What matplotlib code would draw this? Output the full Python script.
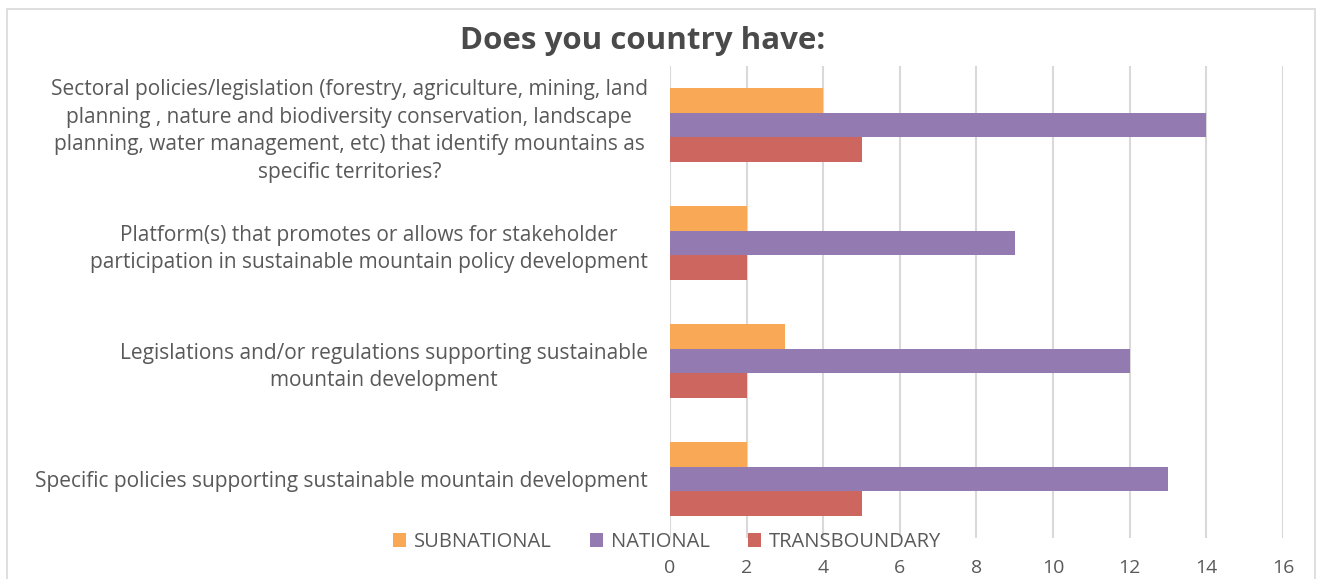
import matplotlib
matplotlib.use("Agg")
import matplotlib.pyplot as plt
from matplotlib.patches import Rectangle, Patch
import numpy as np

categories = [
    "Sectoral policies/legislation (forestry, agriculture, mining, land\nplanning , nature and biodiversity conservation, landscape\nplanning, water management, etc) that identify mountains as\nspecific territories?",
    "Platform(s) that promotes or allows for stakeholder\nparticipation in sustainable mountain policy development",
    "Legislations and/or regulations supporting sustainable\nmountain development",
    "Specific policies supporting sustainable mountain development",
]
subnational = [4, 2, 3, 2]
national = [14, 9, 12, 13]
transboundary = [5, 2, 2, 5]
series_names = ["SUBNATIONAL", "NATIONAL", "TRANSBOUNDARY"]
colors = ["#F9A856", "#937AB1", "#CD665F"]
xticks = [0, 2, 4, 6, 8, 10, 12, 14, 16]

plt.rcParams['font.family'] = ['Open Sans', 'DejaVu Sans']

W, H = 1319, 579
fig = plt.figure(figsize=(W / 100, H / 100), dpi=100)
fig.patch.set_facecolor("white")

# outer chart border
fig.patches.append(Rectangle((7 / W, -0.05), (1315 - 7) / W, 1 - 9 / H + 0.05,
                             transform=fig.transFigure, fill=False,
                             edgecolor="#D9D9D9", linewidth=1.2))

ax = fig.add_axes([670 / W, 1 - 538 / H, (1283 - 670) / W, (538 - 66) / H])
y = np.arange(len(categories))
bw = 0.208
for vals, off, c, name in zip([subnational, national, transboundary],
                              [-bw, 0, bw], colors, series_names):
    ax.barh(y + off, vals, height=bw, color=c, label=name, zorder=3)

ax.set_ylim(3.5, -0.5)
ax.set_xlim(0, 16)
ax.set_xticks(xticks)
ax.set_xticklabels([str(t) for t in xticks])
ax.set_yticks(y)
ax.set_yticklabels(categories, ha="right", multialignment="center",
                   linespacing=1.42)
ax.tick_params(axis="y", length=0, pad=16, labelsize=15, labelcolor="#595959")
ax.tick_params(axis="x", length=0, pad=15, labelsize=14, labelcolor="#595959")
for s in ax.spines.values():
    s.set_visible(False)
ax.grid(axis="x", color="#D9D9D9", linewidth=1.5, zorder=0)
ax.set_axisbelow(True)

fig.text(643 / W, 1 - 41 / H, "Does you country have:", ha="center", va="center",
         fontsize=22.5, fontweight="bold", color="#4A4A4A")

handles = [Patch(facecolor=c, edgecolor="none") for c in colors]
leg = fig.legend(handles, series_names, loc="center", bbox_to_anchor=(667 / W, 1 - 542 / H),
                 ncol=3, frameon=False, fontsize=14.5, handlelength=0.65, handleheight=0.65,
                 handletextpad=0.4, columnspacing=1.9, borderaxespad=0, borderpad=0)
for t in leg.get_texts():
    t.set_color("#595959")

fig.savefig("out.png", dpi=100, facecolor="white")
